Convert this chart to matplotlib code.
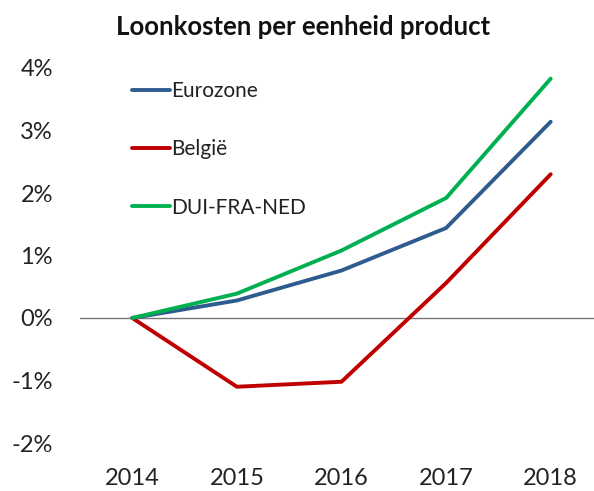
import matplotlib
matplotlib.use("Agg")
import matplotlib.pyplot as plt
from matplotlib.ticker import FuncFormatter

years = [2014, 2015, 2016, 2017, 2018]
eurozone = [0.0, 0.28, 0.76, 1.44, 3.14]
belgie = [0.0, -1.10, -1.02, 0.56, 2.30]
dui_fra_ned = [0.0, 0.39, 1.08, 1.92, 3.83]
yticks = [-2, -1, 0, 1, 2, 3, 4]

plt.rcParams['font.family'] = ['Lato', 'DejaVu Sans']

W, H = 594, 491
fig = plt.figure(figsize=(W / 100, H / 100), dpi=100)
left, right, top, bottom = 80, 603, 68, 443
ax = fig.add_axes([left / W, 1 - bottom / H, (right - left) / W, (bottom - top) / H])

ax.plot(years, eurozone, color='#2F5C8F', lw=2.8, label='Eurozone', solid_capstyle='round')
ax.plot(years, belgie, color='#C00000', lw=2.8, label='België', solid_capstyle='round')
ax.plot(years, dui_fra_ned, color='#00B050', lw=2.8, label='DUI-FRA-NED', solid_capstyle='round')
ax.axhline(0, color='#777777', lw=1.0, zorder=0)

ax.set_xlim(2013.5, 2018.5)
ax.set_ylim(-2, 4)
ax.set_xticks(years)
ax.set_xticklabels([str(y) for y in years])
ax.set_yticks(yticks)
ax.yaxis.set_major_formatter(FuncFormatter(lambda v, p: f"{int(round(v))}%"))
for s in ax.spines.values():
    s.set_visible(False)
ax.tick_params(axis='both', length=0, labelsize=17, colors='#222222')
ax.tick_params(axis='y', pad=19.5)
ax.tick_params(axis='x', pad=18)
ax.set_facecolor('none')

fig.text(303 / W, 1 - 27 / H, 'Loonkosten per eenheid product', ha='center', va='center',
         fontsize=18.5, fontweight='bold', color='#111111')

leg = ax.legend(loc='upper left', bbox_to_anchor=(132 / W, 1 - 81 / H),
                bbox_transform=fig.transFigure, frameon=False, fontsize=15,
                handlelength=1.8, handletextpad=0.1, labelspacing=1.84,
                borderpad=0, borderaxespad=0)
for t in leg.get_texts():
    t.set_color('#222222')

fig.savefig('out.png', dpi=100)
